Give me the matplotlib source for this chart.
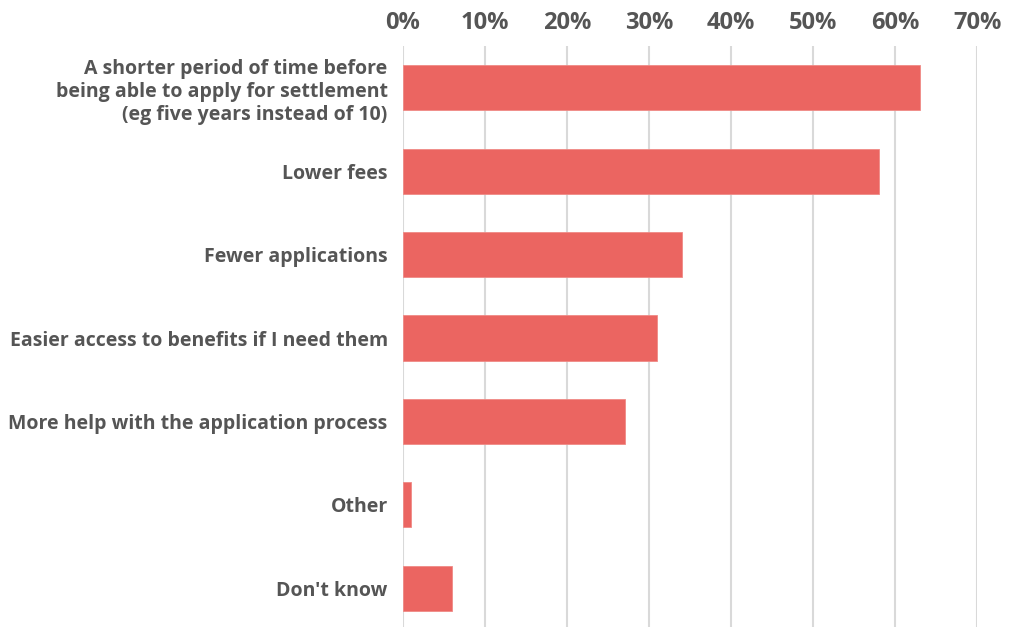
import matplotlib.pyplot as plt
from matplotlib.ticker import FuncFormatter

# ----------------------------
# Data
# ----------------------------
categories = [
    "A shorter period of time before\nbeing able to apply for settlement\n(eg five years instead of 10)",
    "Lower fees",
    "Fewer applications",
    "Easier access to benefits if I need them",
    "More help with the application process",
    "Other",
    "Don't know",
]
values = [63, 58, 34, 31, 27, 1, 6]
x_ticks = [0, 10, 20, 30, 40, 50, 60, 70]

# ----------------------------
# Palette
# ----------------------------
BAR = "#EB6561"
INK = "#555555"
GRID = "#D9D9D9"

plt.rcParams["font.family"] = ["Open Sans", "DejaVu Sans"]

fig = plt.figure(figsize=(10.1, 6.27), dpi=100)
ax = fig.add_axes([403 / 1010, 1 - 630 / 627, (977.3 - 403) / 1010, 584 / 627])

pos = list(range(len(categories)))
ax.barh(pos, values, height=0.54, color=BAR, edgecolor="#F08A86", linewidth=0.6, zorder=3)

ax.set_xlim(0, 70)
ax.set_ylim(len(categories) - 0.5, -0.5)
ax.set_xticks(x_ticks)
ax.xaxis.set_major_formatter(FuncFormatter(lambda v, _: f"{v:.0f}%"))
ax.xaxis.tick_top()
ax.tick_params(axis="x", length=0, pad=8, labelsize=17, labelcolor=INK)
for lab in ax.get_xticklabels():
    lab.set_fontweight("bold")

ax.set_yticks(pos)
ax.set_yticklabels(categories, fontsize=14, fontweight="bold", color=INK,
                   linespacing=1.2)
ax.tick_params(axis="y", length=0, pad=11)

ax.grid(True, axis="x", color=GRID, linewidth=1.5, zorder=0)
ax.grid(False, axis="y")
for side in ax.spines.values():
    side.set_visible(False)

fig.savefig("out.png", dpi=100)
